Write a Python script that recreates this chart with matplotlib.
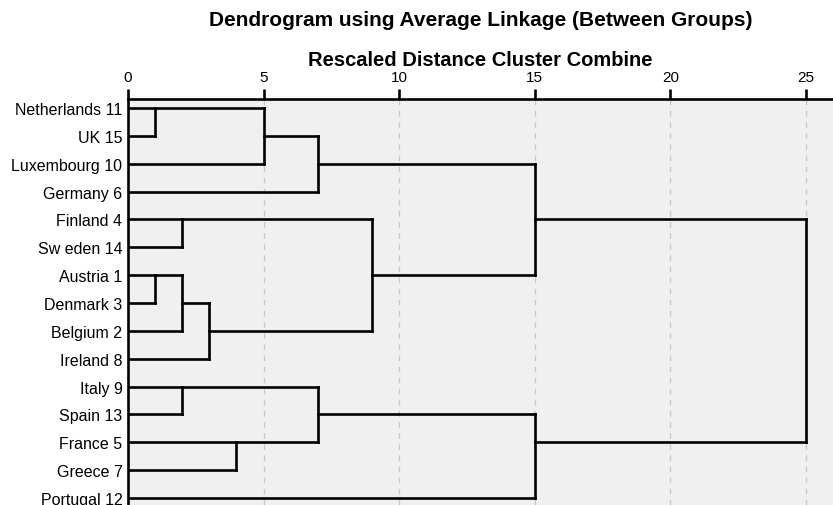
import numpy as np
import matplotlib.pyplot as plt

# data: leaf labels (top to bottom) and merges (row a, row b, rescaled distance)
labels = ["Netherlands 11", "UK 15", "Luxembourg 10", "Germany 6", "Finland 4",
          "Sw eden 14", "Austria 1", "Denmark 3", "Belgium 2", "Ireland 8",
          "Italy 9", "Spain 13", "France 5", "Greece 7", "Portugal 12"]
merge_a = [0, 0, 1, 4, 6, 6, 7, 4, 2, 10, 12, 10, 11, 4]
merge_b = [1, 2, 3, 5, 7, 8, 9, 8, 6, 11, 13, 12, 14, 12]
merge_d = [1, 5, 7, 2, 1, 2, 3, 9, 15, 2, 4, 7, 15, 25]
xticks = [0, 5, 10, 15, 20, 25]

fig = plt.figure(figsize=(8.33, 5.06), dpi=100)
ax = fig.add_axes([128/833, 0, 705/833, 406/506])
ax.set_facecolor("#f0f0f0")

# x where each row's current cluster line starts (leaves start at 0)
start = {i: 0 for i in range(len(labels))}
for a, b, d in zip(merge_a, merge_b, merge_d):
    ax.plot([start[a], d], [a, a], color="black", lw=1.9, solid_capstyle="projecting", zorder=3)
    ax.plot([start[b], d], [b, b], color="black", lw=1.9, solid_capstyle="projecting", zorder=3)
    ax.plot([d, d], [a, b], color="black", lw=1.9, solid_capstyle="projecting", zorder=3)
    start[(a + b) // 2] = d

for x in xticks[1:]:
    ax.axvline(x, color="#c8c8c8", lw=1, ls=(0, (4, 4)), zorder=1)

ax.set_xlim(0, 26)
ax.set_ylim(14.25, -0.32)
ax.xaxis.tick_top()
ax.set_xticks(xticks)
ax.tick_params(axis="x", direction="out", length=7, width=1.9, pad=4, labelsize=11)
ax.set_yticks(range(len(labels)))
ax.set_yticklabels(labels, fontsize=11.5)
ax.tick_params(axis="y", length=0, pad=4)
for lbl in ax.get_xticklabels() + ax.get_yticklabels():
    lbl.set_family("Liberation Sans")

for s in ["right", "bottom"]:
    ax.spines[s].set_visible(False)
for s in ["top", "left"]:
    ax.spines[s].set_linewidth(1.9)

cx = (128 + 833) / 2 / 833
fig.text(cx, 1 - 20/506, "Dendrogram using Average Linkage (Between Groups)",
         ha="center", va="center", fontsize=15, fontweight="bold", family="Liberation Sans")
fig.text(cx, 1 - 61/506, "Rescaled Distance Cluster Combine",
         ha="center", va="center", fontsize=14.5, fontweight="bold", family="Liberation Sans")

fig.savefig("out.png", dpi=100)
